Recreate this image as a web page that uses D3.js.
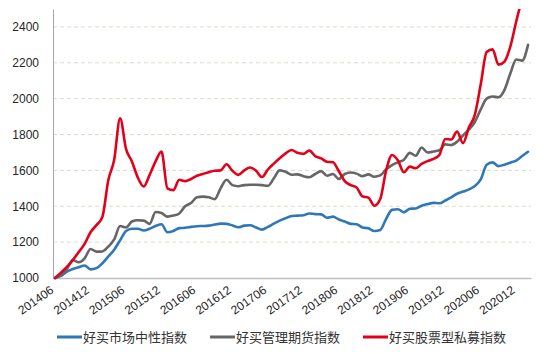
<!DOCTYPE html>
<html>
<head>
<meta charset="utf-8">
<script src="https://cdn.jsdelivr.net/npm/d3@7"></script>
<style>
  html, body { margin: 0; padding: 0; background: #fff; }
  svg { display: block; }
  text { font-family: "Liberation Sans", Arial, "Noto Sans CJK SC", sans-serif; }
</style>
</head>
<body>
<svg id="chart" width="554" height="354"></svg>
<script>
// ---------------- DATA (monthly, 201406 .. 202102) ----------------
const seriesNames = ["好买市场中性指数", "好买管理期货指数", "好买股票型私募指数"];
const tickLabels = ["201406","201412","201506","201512","201606","201612","201706",
                    "201712","201806","201812","201906","201912","202006","202012"];
const yTicks = [1000, 1200, 1400, 1600, 1800, 2000, 2200, 2400];

const neutral = [1000,1012,1035,1050,1060,1070,1048,1055,1082,1120,1158,1210,1262,1275,1275,1265,
  1275,1290,1300,1255,1262,1278,1280,1285,1289,1290,1292,1298,1303,1302,1293,1283,1292,1294,1282,
  1270,1285,1303,1320,1333,1346,1348,1350,1360,1356,1355,1336,1342,1326,1315,1302,1300,1282,1277,
  1262,1268,1330,1380,1383,1366,1386,1388,1403,1412,1419,1417,1432,1450,1470,1482,1494,1513,1550,
  1632,1645,1624,1632,1643,1655,1680,1704];

const futures = [1000,1018,1050,1100,1088,1110,1162,1147,1148,1175,1215,1290,1282,1315,1322,1320,
  1302,1368,1362,1342,1348,1360,1400,1418,1450,1454,1450,1440,1500,1548,1518,1512,1518,1520,1520,
  1518,1514,1556,1600,1592,1576,1578,1568,1562,1580,1596,1570,1580,1552,1580,1588,1582,1568,1578,
  1565,1572,1606,1630,1645,1660,1698,1682,1728,1700,1705,1712,1745,1742,1760,1795,1828,1870,1940,
  2000,2012,2008,2048,2140,2218,2212,2300];

const equity = [1000,1030,1062,1100,1145,1190,1255,1295,1340,1545,1660,1891,1720,1650,1560,1510,
  1575,1650,1705,1500,1490,1548,1540,1552,1570,1580,1590,1598,1600,1634,1598,1575,1600,1616,1598,
  1563,1605,1638,1668,1695,1714,1698,1692,1710,1680,1667,1648,1645,1595,1540,1518,1505,1455,1448,
  1403,1440,1600,1686,1655,1590,1621,1612,1636,1652,1664,1686,1775,1772,1816,1752,1840,1910,2080,
  2260,2275,2190,2206,2290,2430,2560,2680];

const seriesValues = [neutral, futures, equity];
const colors = ["#2f78b7", "#666666", "#e2001a"];

// ---------------- LAYOUT ----------------
const svg = d3.select("#chart");
const mLeft = 53, mRight = 531, mTop = 9, mBottom = 278;

const x = d3.scaleLinear().domain([-0.35, 80.5]).range([mLeft, mRight]);
const y = d3.scaleLinear().domain([1000, 2500]).range([mBottom, mTop]);

// gridlines
svg.append("g").selectAll("line")
  .data(yTicks.filter(v => v > 1000))
  .join("line")
  .attr("x1", mLeft).attr("x2", mRight)
  .attr("y1", d => y(d)).attr("y2", d => y(d))
  .attr("stroke", "#dcdccb").attr("stroke-width", 1)
  .attr("stroke-dasharray", "4,3");

// y axis
const yAxis = svg.append("g")
  .attr("transform", `translate(${mLeft},0)`)
  .call(d3.axisLeft(y).tickValues(yTicks).tickSize(0).tickSizeOuter(0).tickPadding(14)
        .tickFormat(d3.format("d")));
yAxis.select(".domain").attr("stroke", "#a6a6a6").attr("stroke-width", 1);
yAxis.selectAll("text").attr("font-size", 12).attr("fill", "#262626")
  .style("font-family", "'Liberation Sans', Arial, sans-serif");

// x axis
const xTickIdx = tickLabels.map((_, i) => i * 6);
const xAxis = svg.append("g")
  .attr("transform", `translate(0,${mBottom})`)
  .call(d3.axisBottom(x).tickValues(xTickIdx).tickSize(0).tickSizeOuter(0)
        .tickFormat((d, i) => tickLabels[i]));
xAxis.select(".domain").attr("stroke", "#bfbfbf").attr("stroke-width", 1.5);
xAxis.selectAll("text")
  .attr("x", 0).attr("y", 0).attr("dy", 0)
  .attr("text-anchor", "end")
  .attr("transform", "translate(-1,14) rotate(-35)")
  .attr("font-size", 12).attr("fill", "#262626")
  .style("font-family", "'Liberation Sans', Arial, sans-serif");

// clip
svg.append("clipPath").attr("id", "plotclip")
  .append("rect").attr("x", mLeft).attr("y", mTop)
  .attr("width", mRight - mLeft + 5).attr("height", mBottom - mTop + 3);

const line = d3.line()
  .x((d, i) => x(i))
  .y(d => y(d))
  .curve(d3.curveMonotoneX);

svg.append("g").attr("clip-path", "url(#plotclip)")
  .selectAll("path")
  .data(seriesValues)
  .join("path")
  .attr("d", d => line(d))
  .attr("fill", "none")
  .attr("stroke", (d, i) => colors[i])
  .attr("stroke-width", 2.6)
  .attr("stroke-linejoin", "round")
  .attr("stroke-linecap", "round");

// legend
const legendX = [57, 210, 363];
const lg = svg.append("g").selectAll("g")
  .data(seriesNames)
  .join("g")
  .attr("transform", (d, i) => `translate(${legendX[i]},337)`);
lg.append("line").attr("x1", 0).attr("x2", 25).attr("y1", 0).attr("y2", 0)
  .attr("stroke", (d, i) => colors[i]).attr("stroke-width", 3);
lg.append("text").attr("x", 26).attr("y", 0).attr("dy", "0.36em")
  .attr("font-size", 13).attr("fill", "#333")
  .style("font-family", "'Noto Sans CJK SC', sans-serif")
  .text(d => d);
</script>
</body>
</html>
